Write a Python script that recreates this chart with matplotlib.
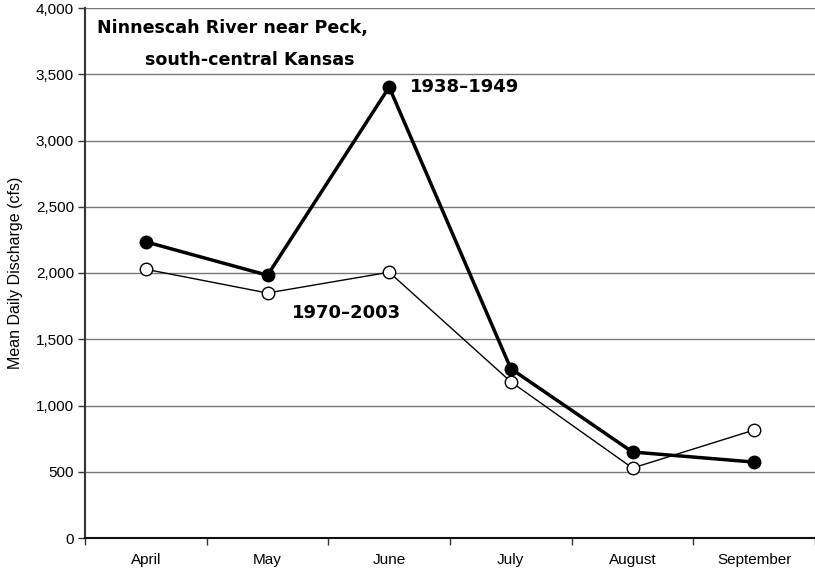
import numpy as np
import matplotlib.pyplot as plt
from matplotlib.ticker import FuncFormatter, FixedLocator

# monthly mean daily discharge (cfs)
months = ['April', 'May', 'June', 'July', 'August', 'September']
early = [2235, 1983, 3403, 1278, 649, 573]     # 1938-1949
late = [2028, 1849, 2006, 1179, 528, 815]      # 1970-2003

dpi = 100
fig = plt.figure(figsize=(815/dpi, 573/dpi), dpi=dpi)
ax = fig.add_axes([85/815, 35/573, 730/815, 530/573])

x = np.arange(len(months))
ax.plot(x, late, color='black', lw=1.0, marker='o', ms=9,
        mfc='white', mec='black', mew=1.0, zorder=3)
ax.plot(x, early, color='black', lw=2.5, marker='o', ms=9,
        mfc='black', mec='black', zorder=4)

ax.set_xlim(-0.5, len(months) - 0.5)
ax.set_ylim(0, 4000)
ax.set_yticks(np.arange(0, 4001, 500))
ax.yaxis.set_major_formatter(FuncFormatter(lambda v, p: '{:,.0f}'.format(v)))
ax.set_xticks(x)
ax.set_xticklabels(months)
ax.xaxis.set_minor_locator(FixedLocator(np.arange(-0.5, len(months), 1.0)))
ax.tick_params(axis='x', which='major', length=0, pad=11)
ax.tick_params(axis='x', which='minor', length=5, width=1, color='#333333')
ax.tick_params(axis='y', length=5, width=1, color='#333333', pad=3)
for lab in ax.get_xticklabels() + ax.get_yticklabels():
    lab.set_family('Liberation Sans')
    lab.set_fontsize(11)

ax.grid(axis='y', color='#777777', lw=1)
ax.set_axisbelow(True)
ax.spines['top'].set_visible(False)
ax.spines['right'].set_visible(False)
ax.spines['left'].set_color('#333333')
ax.spines['bottom'].set_color('#111111')
ax.spines['left'].set_linewidth(1.5)
ax.spines['bottom'].set_linewidth(1.5)

ax.set_ylabel('Mean Daily Discharge (cfs)', family='Liberation Sans', fontsize=11.5, labelpad=9)

ax.text(0.016, 0.962, 'Ninnescah River near Peck,', transform=ax.transAxes,
        fontsize=12.6, fontweight='bold', va='center', ha='left')
ax.text(0.082, 0.902, 'south-central Kansas', transform=ax.transAxes,
        fontsize=12.6, fontweight='bold', va='center', ha='left')
ax.text(2.17, early[2], '1938\u20131949', fontsize=13, fontweight='bold', va='center', ha='left')
ax.text(1.2, 1700, '1970\u20132003', fontsize=13, fontweight='bold', va='center', ha='left')

plt.savefig('out.png', dpi=dpi)
